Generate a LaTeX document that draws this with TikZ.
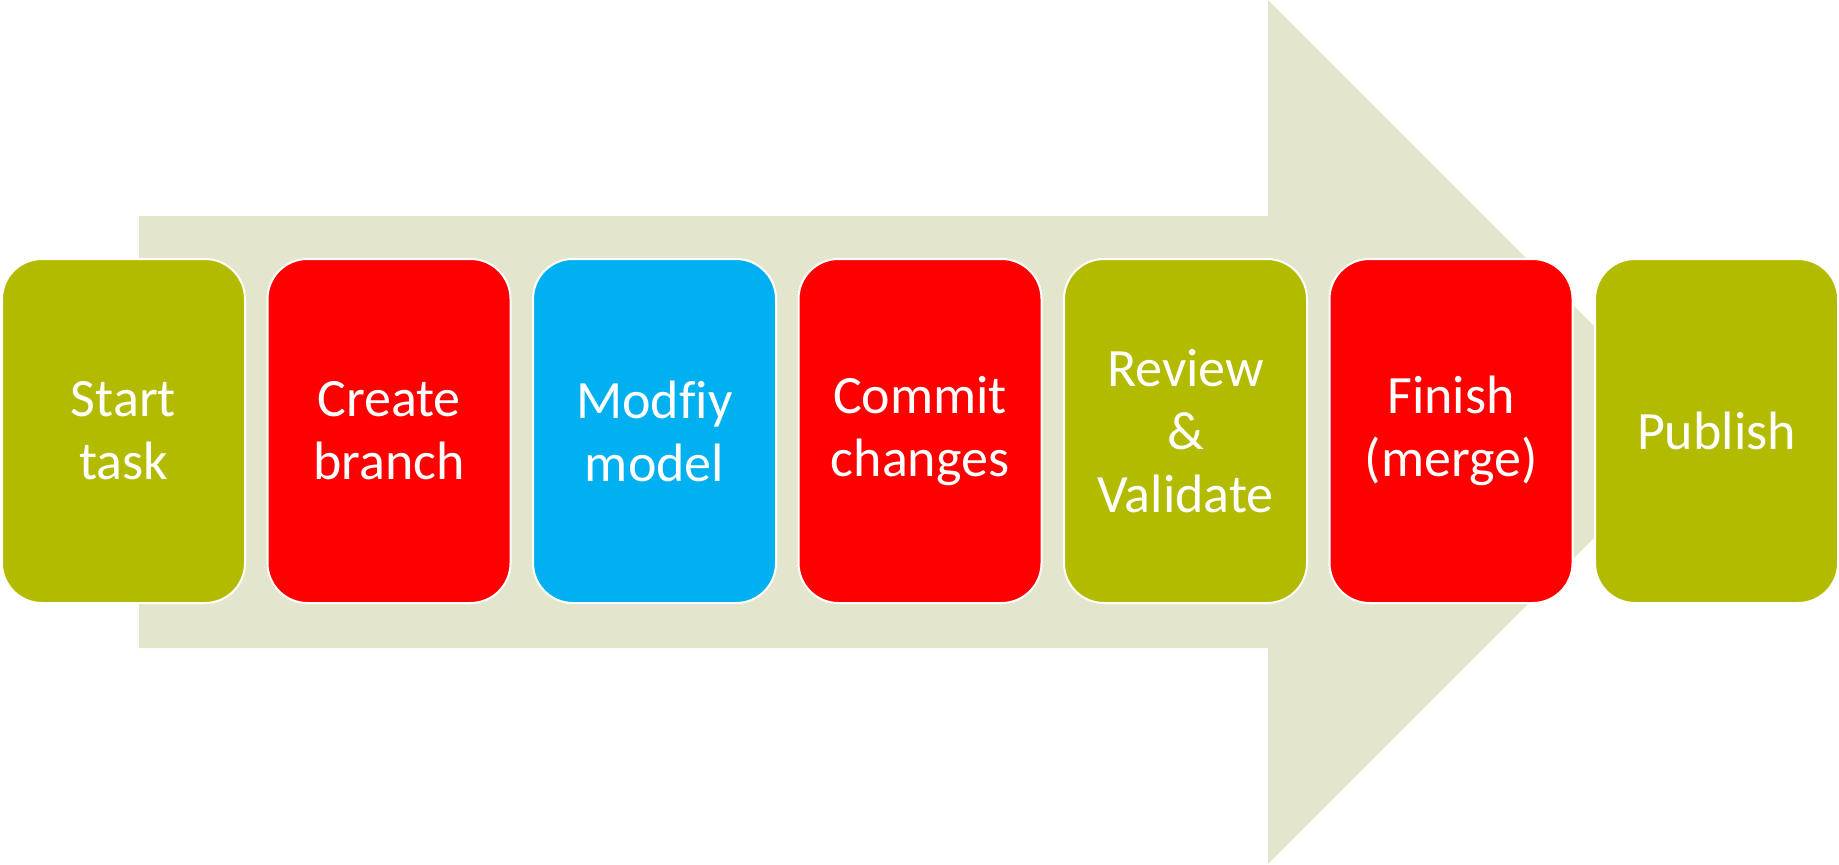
\documentclass[tikz,border=0pt]{standalone}
\usepackage{fontspec}
\setmainfont{Carlito}[Ligatures=NoCommon]
\usetikzlibrary{positioning}
\definecolor{stepGreen}{RGB}{178,187,0}
\definecolor{stepRed}{RGB}{255,0,0}
\definecolor{stepBlue}{RGB}{0,176,240}
\definecolor{arrowTan}{RGB}{227,230,205}
\tikzset{
  stepbox/.style={draw=white, line width=1pt, rounded corners=20pt,
    minimum width=121.5pt, minimum height=172pt, inner sep=2pt,
    align=center, text=white, font=\fontsize{27}{31.5}\selectfont},
  stepgap/.style={right=10.25pt of #1},
}
\begin{document}
\begin{tikzpicture}[x=0.5pt, y=0.5pt]
\useasboundingbox (0,0) rectangle (1839,864);
% Background arrow
\fill[arrowTan] (139,216) -- (1268,216) -- (1268,0) -- (1700,432)
  -- (1268,864) -- (1268,648) -- (139,648) -- cycle;
% Process steps
\node[stepbox, fill=stepGreen] (start) at (123.5,433) {Start\\task};
\node[stepbox, fill=stepRed, stepgap=start] (branch) {Create\\branch};
\node[stepbox, fill=stepBlue, stepgap=branch] (modify) {Modfiy\\model};
\node[stepbox, fill=stepRed, stepgap=modify] (commit) {Commit\\changes};
\node[stepbox, fill=stepGreen, stepgap=commit] (review) {Review\\\&\\Validate};
\node[stepbox, fill=stepRed, stepgap=review] (finish) {Finish\\(merge)};
\node[stepbox, fill=stepGreen, stepgap=finish] (publish) {Publish};
\end{tikzpicture}
\end{document}
